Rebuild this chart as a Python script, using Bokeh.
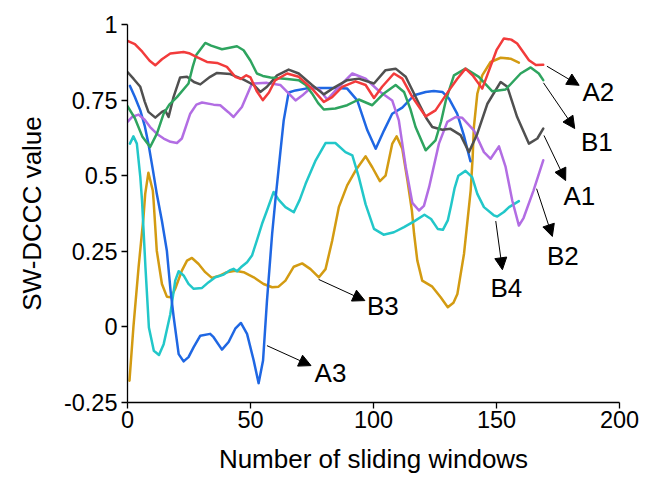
from bokeh.plotting import figure
from bokeh.models import Range1d, FixedTicker, CustomJSTickFormatter, Arrow, NormalHead, Label
from bokeh.embed import file_html
from bokeh.resources import INLINE

# ---- series: (window index, SW-DCCC value) ----
a2_x = [0, 3, 6, 9, 11.3, 14, 17.4, 22.8, 25, 28, 32.3, 36.4, 40.4, 43.8, 46, 48.3, 50, 52.5, 55, 57.5, 60, 64.9,
        69.6, 75, 79.8, 83.2, 87.3, 92.7, 96.8, 100.2, 103.5, 108.3, 111.7, 115.8, 121.2, 125.2, 130.7, 134, 137.4,
        140.5, 144.2, 147.5, 150, 153, 156, 158.4, 163.2, 166, 169]
a2_y = [0.946, 0.935, 0.91, 0.88, 0.865, 0.885, 0.904, 0.909, 0.905, 0.893, 0.876, 0.873, 0.86, 0.827, 0.82, 0.832,
        0.825, 0.78, 0.75, 0.775, 0.815, 0.838, 0.827, 0.788, 0.744, 0.76, 0.794, 0.812, 0.8, 0.757, 0.794, 0.838,
        0.821, 0.76, 0.696, 0.716, 0.782, 0.82, 0.854, 0.83, 0.788, 0.86, 0.915, 0.954, 0.95, 0.937, 0.882, 0.866,
        0.867]

b1_x = [0, 3, 6, 9.2, 12, 14.7, 17, 20.1, 24.8, 26.5, 28, 31.6, 34, 38.4, 41, 44.5, 47.2, 50, 52.6, 55, 58.1, 64.9,
        69.6, 72.5, 75, 77.5, 79.8, 84.5, 89.3, 94, 99.5, 104.2, 109, 112.4, 115, 117.1, 121.2, 125.2, 127.5, 129.4,
        132.7, 137.4, 142.8, 148.3, 153.7, 159.8, 163.9, 167.2, 169]
b1_y = [0.73, 0.69, 0.63, 0.595, 0.64, 0.705, 0.735, 0.76, 0.805, 0.86, 0.9, 0.939, 0.93, 0.918, 0.922, 0.928, 0.915,
        0.88, 0.838, 0.83, 0.825, 0.82, 0.816, 0.8, 0.772, 0.74, 0.719, 0.722, 0.733, 0.752, 0.733, 0.772, 0.8, 0.777,
        0.72, 0.661, 0.584, 0.617, 0.68, 0.749, 0.832, 0.854, 0.827, 0.779, 0.785, 0.838, 0.858, 0.838, 0.816]

a1_x = [0, 2.5, 5.2, 7, 8.5, 11.3, 14, 15.3, 16.7, 18.7, 21.4, 24.2, 27, 29.6, 33.6, 36.4, 41.8, 47.2, 51.3, 54, 56.7,
        60.8, 65.5, 69.6, 75, 79.8, 84.5, 89.3, 94, 100.2, 104.9, 109, 113.1, 118.5, 121.5, 123.9, 128, 131.3, 135.4,
        138.8, 142.2, 146.3, 151.7, 154.4, 158.4, 163.2, 166.6, 169]
a1_y = [0.843, 0.82, 0.794, 0.745, 0.711, 0.692, 0.711, 0.716, 0.694, 0.76, 0.825, 0.827, 0.81, 0.802, 0.827, 0.84,
        0.836, 0.818, 0.8, 0.777, 0.794, 0.832, 0.851, 0.838, 0.8, 0.769, 0.794, 0.816, 0.821, 0.805, 0.849, 0.854,
        0.827, 0.738, 0.69, 0.661, 0.652, 0.655, 0.634, 0.578, 0.639, 0.738, 0.81, 0.794, 0.694, 0.606, 0.623, 0.656]

b2_x = [0, 2, 4.5, 7, 9.2, 12, 14.7, 17.5, 20.1, 22.1, 25.5, 28, 30.3, 35, 37.7, 41, 43.1, 46.5, 50.6, 56.7, 62.1,
        65.5, 68.3, 71, 75, 78, 81.2, 85.9, 91.4, 96.8, 102.2, 107.6, 110.3, 113.1, 115.8, 118.5, 120.5, 122.6, 126.6,
        130, 133.4, 136, 140.8, 144.9, 147.6, 151, 153.7, 156.4, 159.1, 161, 165, 169]
b2_y = [0.678, 0.695, 0.702, 0.685, 0.661, 0.638, 0.623, 0.612, 0.608, 0.623, 0.705, 0.735, 0.742, 0.735, 0.733,
        0.71, 0.694, 0.727, 0.805, 0.807, 0.8, 0.772, 0.749, 0.765, 0.794, 0.785, 0.752, 0.794, 0.838, 0.821, 0.78,
        0.749, 0.683, 0.529, 0.41, 0.385, 0.4, 0.462, 0.606, 0.678, 0.694, 0.692, 0.65, 0.578, 0.556, 0.597, 0.529,
        0.418, 0.335, 0.36, 0.45, 0.551]

a3_x = [1, 3, 5.2, 7, 8.5, 10.3, 11.9, 14, 16, 17.5, 18.8, 20.8, 22.8, 24.8, 26.9, 29.6, 33.6, 35, 38.4, 41.1, 43.8,
        46.1, 48.6, 51.3, 53.3, 55.1, 56.7, 58.8, 60.1, 62.2, 63.5, 65.5, 68.3, 72.4, 77.8, 84.5, 89.3, 93.4, 97.5,
        100.9, 104.3, 107.6, 111.7, 116.5, 121.2, 124.5, 128, 130.7, 134, 136.7, 139.4]
a3_y = [0.797, 0.76, 0.716, 0.665, 0.606, 0.52, 0.44, 0.35, 0.252, 0.12, 0.031, -0.09, -0.114, -0.1, -0.067, -0.029,
        -0.023, -0.034, -0.075, -0.05, -0.006, 0.013, -0.023, -0.111, -0.186, -0.111, 0.087, 0.308, 0.418, 0.583,
        0.683, 0.775, 0.782, 0.788, 0.79, 0.79, 0.788, 0.749, 0.65, 0.589, 0.65, 0.705, 0.725, 0.766, 0.777, 0.78,
        0.777, 0.755, 0.705, 0.634, 0.548]

b4_x = [1, 2.4, 3.8, 5.2, 5.9, 7.3, 8.7, 10.7, 12.8, 14.7, 17.4, 19.4, 20.8, 22.8, 24.8, 26.9, 30.3, 33, 35.7, 39.1,
        41.8, 43.1, 44.5, 46.1, 48.6, 50.6, 52.6, 54.7, 56.7, 59.4, 61.5, 64.2, 67.6, 70, 72.4, 76.5, 80.5, 84.5,
        88.6, 91.4, 94, 96.8, 100.2, 104.1, 108.3, 112.4, 116.5, 120.7, 123.4, 126.1, 128.2, 130.2, 131.5, 133,
        134.5, 137.4, 140.1, 142.2, 144.9, 148.9, 150.3, 153, 155.1, 159.1]
b4_y = [0.606, 0.63, 0.606, 0.496, 0.418, 0.197, -0.002, -0.079, -0.093, -0.057, 0.042, 0.153, 0.184, 0.17, 0.142,
        0.126, 0.129, 0.148, 0.164, 0.173, 0.188, 0.192, 0.184, 0.197, 0.214, 0.236, 0.286, 0.341, 0.385, 0.446, 0.42,
        0.396, 0.379, 0.42, 0.473, 0.551, 0.608, 0.608, 0.578, 0.567, 0.496, 0.405, 0.324, 0.305, 0.313, 0.33, 0.349,
        0.371, 0.357, 0.324, 0.321, 0.352, 0.4, 0.46, 0.5, 0.516, 0.495, 0.44, 0.396, 0.369, 0.365, 0.38, 0.396, 0.416]

b3_x = [0.8, 2.4, 4.5, 6.5, 7.2, 8.5, 10.3, 10.6, 11.9, 14, 16, 17.7, 19.4, 22.1, 24.2, 26.2, 28.9, 31.6, 34.3, 37.7,
        40.4, 43.8, 47.2, 51.3, 55.3, 58.8, 61.4, 64.2, 67.6, 71, 74.4, 77.8, 80.5, 83.2, 85.9, 89.3, 92.7, 96.8,
        99.5, 102.6, 104.9, 107.6, 109.4, 111.7, 113.8, 115.6, 116.5, 117.8, 119.8, 123.9, 127.3, 130.2, 132.5, 134.1,
        136.8, 139.5, 140.3, 140.8, 142.2, 144.2, 147.6, 151.7, 155.7, 159.1]
b3_y = [-0.178, -0.001, 0.197, 0.363, 0.44, 0.51, 0.45, 0.418, 0.252, 0.142, 0.1, 0.098, 0.126, 0.186, 0.219, 0.228,
        0.208, 0.181, 0.162, 0.17, 0.181, 0.186, 0.181, 0.164, 0.142, 0.131, 0.133, 0.153, 0.199, 0.21, 0.191, 0.164,
        0.191, 0.285, 0.396, 0.468, 0.517, 0.564, 0.528, 0.482, 0.5, 0.605, 0.63, 0.589, 0.484, 0.385, 0.308, 0.22,
        0.153, 0.133, 0.098, 0.065, 0.08, 0.109, 0.242, 0.451, 0.56, 0.66, 0.771, 0.832, 0.876, 0.89, 0.887, 0.874]

series = [
    ("B3", b3_x, b3_y, "#D39B12"),
    ("B4", b4_x, b4_y, "#22C7C9"),
    ("A3", a3_x, a3_y, "#1F67E3"),
    ("B2", b2_x, b2_y, "#B26DE3"),
    ("A1", a1_x, a1_y, "#505050"),
    ("B1", b1_x, b1_y, "#2EA45F"),
    ("A2", a2_x, a2_y, "#F23B3B"),
]

# ---- callouts: (name, arrow start, arrow tip, text centre) in data units ----
callouts = [
    ("A2", (170.5, 0.862), (183.6, 0.799), (191.4, 0.776)),
    ("B1", (169.1, 0.807), (181.8, 0.656), (190.8, 0.611)),
    ("A1", (169.3, 0.633), (178.1, 0.484), (183.7, 0.434)),
    ("B2", (166.3, 0.457), (172.7, 0.299), (177.0, 0.236)),
    ("B4", (149.7, 0.350), (152.4, 0.189), (154.0, 0.129)),
    ("B3", (77.7, 0.157), (96.5, 0.087), (103.8, 0.070)),
    ("A3", (56.7, -0.062), (74.6, -0.128), (82.5, -0.151)),
]

FONT = "Liberation Sans"
TICK_FS = "23.5px"
LABEL_FS = "26px"
CALLOUT_FS = "26px"

p = figure(width=648, height=478, output_backend="svg", toolbar_location=None,
           x_range=Range1d(0, 200), y_range=Range1d(-0.25, 1),
           min_border_left=127, min_border_right=29, min_border_top=24, min_border_bottom=76)
p.outline_line_color = None
p.xgrid.visible = False
p.ygrid.visible = False
p.background_fill_color = "white"
p.border_fill_color = "white"

for name, xs, ys, color in series:
    p.line(xs, ys, line_color=color, line_width=2.5, line_join="round", line_cap="round")

for name, (x0, y0), (x1, y1), (tx, ty) in callouts:
    p.add_layout(Arrow(x_start=x0, y_start=y0, x_end=x1, y_end=y1, line_width=1, line_color="black",
                       end=NormalHead(size=12, fill_color="black", line_color="black", line_width=1)))
    p.add_layout(Label(x=tx, y=ty, text=name, text_font=FONT, text_font_size=CALLOUT_FS,
                       text_align="center", text_baseline="middle", text_color="black"))

for ax in (p.xaxis[0], p.yaxis[0]):
    ax.axis_line_color = "black"
    ax.axis_line_width = 1.3
    ax.major_tick_line_color = "black"
    ax.major_tick_line_width = 1.3
    ax.major_tick_out = 6
    ax.major_tick_in = 0
    ax.minor_tick_line_color = None
    ax.major_label_text_font = FONT
    ax.major_label_text_font_size = TICK_FS
    ax.major_label_text_color = "black"
    ax.axis_label_text_font = FONT
    ax.axis_label_text_font_size = LABEL_FS
    ax.axis_label_text_font_style = "normal"
    ax.axis_label_text_color = "black"

p.xaxis.ticker = FixedTicker(ticks=[0, 50, 100, 150, 200])
p.yaxis.ticker = FixedTicker(ticks=[-0.25, 0, 0.25, 0.5, 0.75, 1])
p.yaxis.formatter = CustomJSTickFormatter(code="return tick.toString();")
p.xaxis.axis_label = "Number of sliding windows"
p.yaxis.axis_label = "SW-DCCC value"
p.xaxis.major_label_standoff = 2
p.yaxis.major_label_standoff = 4
p.xaxis.axis_label_standoff = 13
p.yaxis.axis_label_standoff = 14

open("out.html", "w").write(file_html(p, INLINE))
